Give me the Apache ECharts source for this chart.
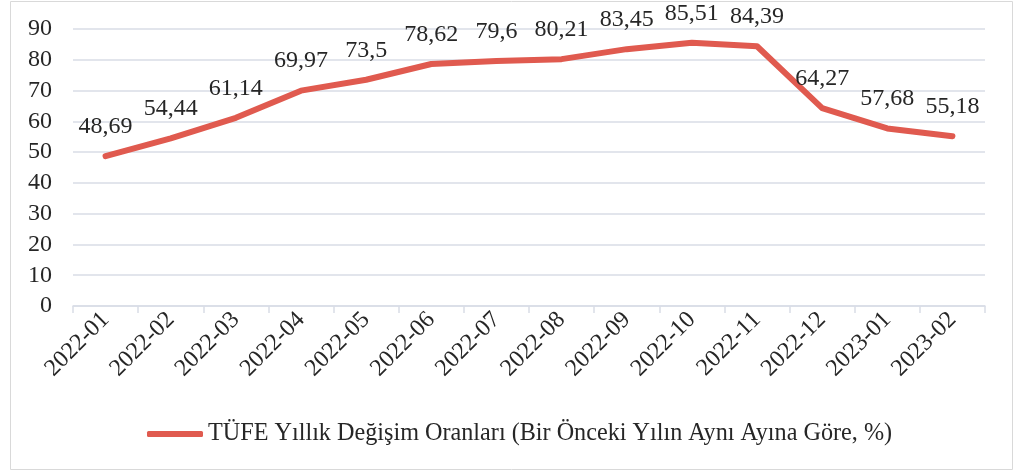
<!DOCTYPE html>
<html><head><meta charset="utf-8">
<script src="https://cdn.jsdelivr.net/npm/echarts@6/dist/echarts.min.js"></script>
<style>html,body{margin:0;padding:0;background:#fff}#c{width:1019px;height:473px}</style>
</head><body><div id="c"></div>
<script>
const categories = ['2022-01','2022-02','2022-03','2022-04','2022-05','2022-06','2022-07','2022-08','2022-09','2022-10','2022-11','2022-12','2023-01','2023-02'];
const values = [48.69,54.44,61.14,69.97,73.5,78.62,79.6,80.21,83.45,85.51,84.39,64.27,57.68,55.18];
const seriesName = 'TÜFE Yıllık Değişim Oranları (Bir Önceki Yılın Aynı Ayına Göre, %)';
const FONT = '"Liberation Serif","Times New Roman",serif';
const COLOR = '#E05A4F';
const chart = echarts.init(document.getElementById('c'));
chart.setOption({
  animation:false,
  textStyle:{fontFamily:FONT},
  graphic:[{type:'rect',shape:{x:10.5,y:1.5,width:1002,height:468},style:{fill:'none',stroke:'#D9D9D9',lineWidth:1},silent:true}],
  grid:{left:73,right:34,top:29,bottom:167,containLabel:false},
  legend:{bottom:22,left:142,itemWidth:56,itemHeight:6,itemGap:5,icon:'roundRect',
    itemStyle:{color:COLOR,opacity:1},
    textStyle:{fontFamily:FONT,fontSize:24.2,color:'#262626'},data:[seriesName]},
  xAxis:{type:'category',data:categories,boundaryGap:true,
    axisLine:{lineStyle:{color:'#D9DDE6',width:1.5}},
    axisTick:{show:true,length:7,lineStyle:{color:'#D9DDE6',width:1.5}},
    axisLabel:{rotate:45,fontFamily:FONT,fontSize:24,color:'#262626',margin:10}},
  yAxis:{type:'value',min:0,max:90,interval:10,
    axisLine:{show:false},axisTick:{show:false},
    splitLine:{lineStyle:{color:'#D9DDE6',width:1.5}},
    axisLabel:{fontFamily:FONT,fontSize:24,color:'#262626',margin:21}},
  series:[{name:seriesName,type:'line',data:values,smooth:false,showSymbol:true,symbol:'circle',symbolSize:3,
    lineStyle:{color:COLOR,width:6,cap:'round',join:'round'},
    itemStyle:{color:COLOR},
    labelLayout:{hideOverlap:false},
    label:{show:true,position:'top',distance:16,fontFamily:FONT,fontSize:24,color:'#262626',
      formatter:p=>String(p.value).replace('.',',')}}]
});
</script></body></html>
